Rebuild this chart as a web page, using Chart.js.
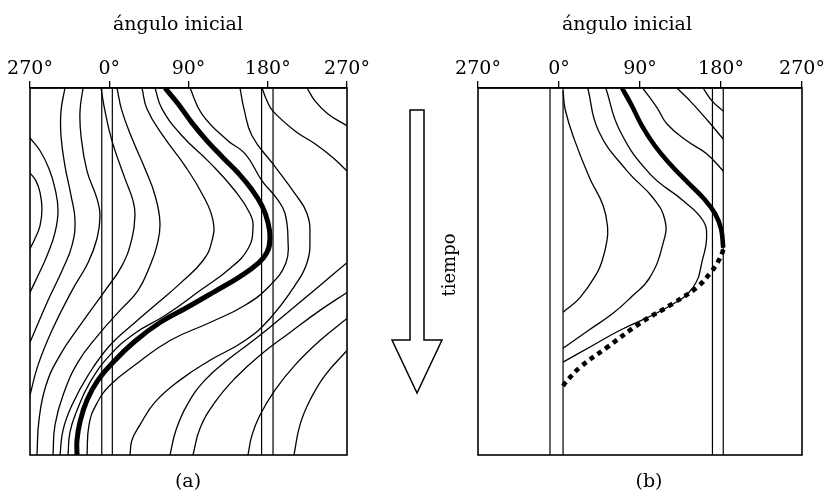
<!DOCTYPE html>
<html><head><meta charset="utf-8">
<script src="https://cdn.jsdelivr.net/npm/chart.js@4.4.1/dist/chart.umd.min.js"></script>
<style>
html,body{margin:0;padding:0;background:#fff;overflow:hidden;width:823px;height:492px}
.box{position:absolute;left:0;top:0;width:860px;height:492px}
</style></head><body>
<div class="box"><canvas id="ca"></canvas></div>
<div class="box"><canvas id="cb"></canvas></div>
<script>
// ---- axis ticks (initial angle, degrees) ----
const TICK_VALUES = [-90, 0, 90, 180, 270];
const TICK_LABELS = ['270°', '0°', '90°', '180°', '270°'];
const AXIS_TITLE = 'ángulo inicial';
const TIME_AXIS = 'tiempo';

// ---- panel (a): [angle°, time] ----
const A_STRIPS = [-8.5, 3.5, 173, 186];
const A_C1 = [[-90,23.1],[-83.2,25.3],[-78.6,28.5],[-76.4,32.9],[-78.6,37.5],[-84.3,41.0],[-90,43.8]];
const A_C2 = [[-90,13.6],[-78.6,17.1],[-68.4,22.0],[-61.6,27.4],[-58.2,33.4],[-61.6,39.4],[-70.7,45.7],[-80.9,51.1],[-90,55.7]];
const A_C3 = [[-50.3,0],[-54.8,6.3],[-54.8,13.0],[-50.3,21.2],[-43.4,29.3],[-38.9,36.1],[-42.3,42.9],[-52.5,49.2],[-69.6,57.9],[-90,69.3]];
const A_C4 = [[-29.8,0],[-33.2,6.3],[-32.1,13.0],[-25.3,22.6],[-13.9,30.2],[-10.5,34.8],[-13.9,41.0],[-24.1,47.6],[-42.3,55.2],[-65.0,66.0],[-80.9,75.5],[-90,83.7]];
const A_C5 = [[-9.4,0],[-4.8,6.3],[3.1,14.4],[17.9,24.7],[27.0,30.7],[29.2,34.8],[25.8,41.0],[14.5,48.4],[-4.8,55.2],[-33.2,64.7],[-55.9,72.8],[-71.8,81.0],[-79.8,90.5],[-82.1,100]];
const A_C6 = [[8.8,0],[14.5,6.3],[27.0,14.4],[40.6,22.0],[52.0,29.3],[57.6,36.7],[54.2,42.9],[46.3,48.4],[32.6,55.2],[12.2,60.6],[-12.8,67.4],[-35.5,74.7],[-52.5,83.7],[-61.6,91.8],[-63.9,100]];
const A_C7 = [[37.2,0],[42.9,5.7],[61.0,13.0],[86.0,21.2],[106.5,29.3],[117.8,36.1],[116.7,41.6],[106.5,47.0],[80.3,53.3],[52.0,59.2],[29.2,63.9],[0.8,70.1],[-24.1,78.3],[-42.3,86.4],[-52.5,93.2],[-55.9,100]];
const A_C8 = [[52.0,0],[59.9,5.7],[82.6,13.0],[114.4,20.4],[142.8,28.0],[159.8,34.2],[163.2,38.3],[157.6,43.8],[137.1,49.2],[103.1,55.2],[63.3,62.0],[29.2,66.8],[0.8,72.8],[-21.9,80.2],[-36.6,87.8],[-44.6,93.8],[-46.8,100]];
const A_L2 = [[91.7,0],[105.3,7.1],[134.8,14.4],[154.2,17.9],[173.5,25.3],[190.5,30.2],[199.6,34.2],[203.0,41.6],[200.7,47.6],[182.5,53.8],[154.2,59.2],[114.4,63.9],[69.0,68.8],[29.2,75.5],[0.8,81.0],[-15.1,86.4],[-23.0,91.8],[-25.3,100]];
const A_L1 = [[148.5,0],[153.0,5.7],[162.1,13.0],[185.9,20.7],[210.9,28.8],[224.6,34.2],[227.9,40.8],[224.6,47.6],[210.9,53.8],[182.5,62.8],[154.2,68.8],[114.4,74.2],[80.3,79.6],[52.0,85.6],[34.9,91.8],[25.8,95.9],[23.6,100]];
const A_R1 = [[270,47.6],[239.3,53.8],[205.3,60.6],[171.2,67.4],[137.1,73.6],[108.7,79.6],[88.3,86.4],[75.8,93.2],[69.0,100]];
const A_R2 = [[270,55.7],[239.3,60.6],[205.3,66.6],[171.2,72.8],[142.8,79.1],[120.1,85.6],[103.1,92.7],[95.1,100]];
const A_R3 = [[270,62.8],[239.3,68.8],[210.9,75.5],[188.2,82.3],[171.2,89.1],[162.1,94.6],[157.6,100]];
const A_R4 = [[270,71.5],[245.0,78.3],[227.9,85.1],[216.6,91.8],[209.8,100]];
const A_L4 = [[173.5,0],[179.1,3.5],[185.9,6.3],[210.9,11.7],[233.6,15.2],[254.1,19.0],[270,22.6]];
const A_L5 = [[224.6,0],[233.6,3.5],[248.4,7.1],[270,10.3]];
const A_THICK = [[63.3,0],[78.1,4.3],[94.0,9.5],[111.0,14.4],[129.2,19.0],[146.2,23.1],[161.0,27.4],[173.5,32.1],[180.3,36.7],[182.5,41.0],[179.1,44.8],[168.9,47.8],[148.5,51.4],[120.1,55.4],[88.3,59.8],[57.6,63.9],[29.2,69.0],[6.5,74.2],[-12.8,79.6],[-25.3,85.1],[-33.2,91.0],[-36.6,95.9],[-36.6,100]];

// ---- panel (b): [angle°, time] ----
const B_STRIPS = [-10, 4.5, 170.5, 182.5];
const B_C1 = [[4.5,0.8],[7,6],[17,14],[34,24.5],[49,32],[54,38],[53,42],[48,47],[42,50.5],[23.3,57.1],[4.5,61.1]];
const B_C2 = [[32,0],[44,11.7],[75.6,22.6],[104.4,29.9],[117.8,36.1],[116,42],[101,51.6],[80,57],[60,61.4],[33,66],[4.5,70.9]];
const B_C3 = [[52,0],[67.8,11.7],[101,23.4],[138,30.7],[160,36.1],[164,40.8],[160,46.2],[148.9,54.3],[120,59.8],[67.8,66],[35,70.5],[4.5,74.7]];
const B_C5 = [[93,0],[109,5.4],[120,9.8],[142,14.4],[164,17.9],[182.5,22.6]];
const B_C6 = [[131,0],[145.6,3.5],[165.6,9.0],[182.5,13.9]];
const B_C7 = [[160,0],[170,3.5],[182.5,6.3]];
const B_THICK = [[70,0],[81.1,4.9],[92.2,10.3],[106.7,15.8],[123.3,20.7],[143.3,25.8],[161.1,30.2],[173.3,34.2],[180,38.3],[182.5,43.5]];
const B_DOTTED = [[182.5,44],[181.1,45.1],[175.6,47.8],[167.8,50.5],[153.3,54.3],[126.7,58.7],[90,64.1],[53.3,70.7],[23.3,76.1],[6.7,80.4],[4.5,81.2]];

const SERIF = '"DejaVu Serif", serif';

function ds(points, w, dash) {
  return {
    data: points.map(p => ({x: p[0], y: p[1]})),
    borderColor: '#000', borderWidth: w, borderDash: dash || [],
    pointRadius: 0, tension: 0.45, fill: false,
    borderCapStyle: 'butt', borderJoinStyle: 'round'
  };
}
function strip(v) { return ds([[v, 0], [v, 100]], 1.2); }

const decor = {
  id: 'decor',
  afterDraw(chart, args, opts) {
    const ctx = chart.ctx, a = chart.chartArea;
    ctx.save();
    ctx.strokeStyle = '#000';
    ctx.lineWidth = 1.6;
    ctx.strokeRect(a.left, a.top, a.right - a.left, a.bottom - a.top);
    ctx.fillStyle = '#000';
    for (const t of (opts.texts || [])) {
      ctx.save();
      ctx.font = t.size + 'px ' + SERIF;
      ctx.textAlign = 'center';
      ctx.textBaseline = 'alphabetic';
      ctx.translate(t.x, t.y);
      if (t.rot) ctx.rotate(t.rot);
      ctx.fillText(t.text, 0, 0);
      ctx.restore();
    }
    if (opts.arrow) {
      const r = opts.arrow;
      ctx.beginPath();
      ctx.moveTo(r.sl, r.top);
      ctx.lineTo(r.sr, r.top);
      ctx.lineTo(r.sr, r.hy);
      ctx.lineTo(r.hr, r.hy);
      ctx.lineTo(r.tx, r.ty);
      ctx.lineTo(r.hl, r.hy);
      ctx.lineTo(r.sl, r.hy);
      ctx.closePath();
      ctx.fillStyle = '#fff';
      ctx.fill();
      ctx.lineWidth = 1.5;
      ctx.lineJoin = 'miter';
      ctx.stroke();
    }
    ctx.restore();
  }
};

function makeChart(id, datasets, padLeft, padRight, decorOpts) {
  return new Chart(document.getElementById(id), {
    type: 'line',
    data: { datasets },
    options: {
      responsive: true, maintainAspectRatio: false, animation: false, events: [],
      layout: { padding: { left: padLeft, right: padRight, top: 56.2, bottom: 37 } },
      plugins: { legend: { display: false }, tooltip: { enabled: false }, decor: decorOpts },
      scales: {
        x: {
          type: 'linear', position: 'top', min: TICK_VALUES[0], max: TICK_VALUES[TICK_VALUES.length - 1],
          afterBuildTicks: s => { s.ticks = TICK_VALUES.map(v => ({ value: v })); },
          ticks: {
            autoSkip: false, maxRotation: 0, minRotation: 0, padding: 1, color: '#000',
            font: { family: SERIF, size: 19 },
            callback: v => TICK_LABELS[TICK_VALUES.indexOf(v)]
          },
          grid: { display: true, drawOnChartArea: false, drawTicks: true, tickLength: 7, color: '#000', lineWidth: 1.3 },
          border: { display: true, color: '#000', width: 1.6 }
        },
        y: { type: 'linear', min: 0, max: 100, reverse: true, display: false }
      }
    },
    plugins: [decor]
  });
}

const thinA = [A_C1, A_C2, A_C3, A_C4, A_C5, A_C6, A_C7, A_C8, A_L2, A_L1, A_R1, A_R2, A_R3, A_R4, A_L4, A_L5];
const dsA = A_STRIPS.map(strip).concat(thinA.map(c => ds(c, 1.3))).concat([ds(A_THICK, 5)]);
makeChart('ca', dsA, 30, 513, {
  texts: [
    { text: AXIS_TITLE, x: 178, y: 30, size: 19 },
    { text: '(a)', x: 188, y: 487, size: 19 }
  ]
});

const thinB = [B_C1, B_C2, B_C3, B_C5, B_C6, B_C7];
const dsB = B_STRIPS.map(strip).concat(thinB.map(c => ds(c, 1.3))).concat([ds(B_THICK, 4.6), ds(B_DOTTED, 4.6, [5, 4.5])]);
makeChart('cb', dsB, 478, 58, {
  texts: [
    { text: AXIS_TITLE, x: 627, y: 30, size: 19 },
    { text: '(b)', x: 649, y: 487, size: 19 },
    { text: TIME_AXIS, x: 455, y: 265, size: 18, rot: -Math.PI / 2 }
  ],
  arrow: { sl: 410, sr: 424, top: 110, hy: 340, hl: 392, hr: 442, tx: 417, ty: 393 }
});
</script>
</body></html>
